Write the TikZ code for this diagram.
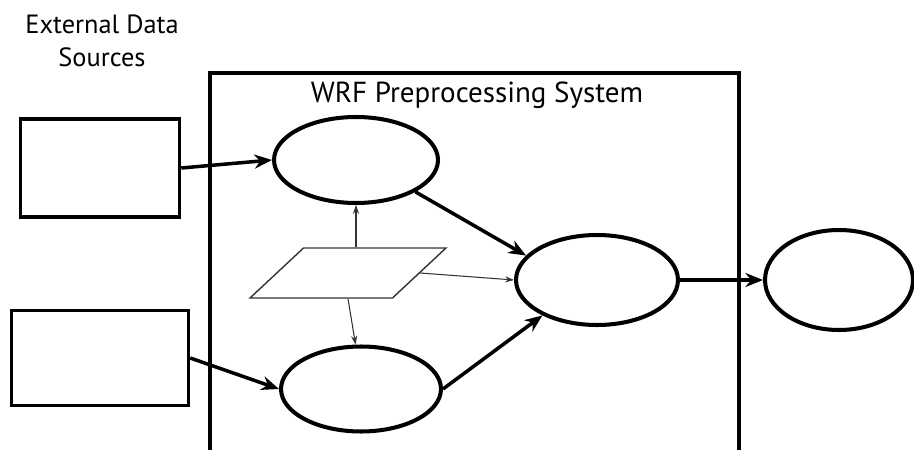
\documentclass[tikz,border=0pt]{standalone}
\usepackage{fontspec}
\setmainfont{PT Sans}
\usepackage{tikz}
\usetikzlibrary{shapes.geometric, arrows.meta}
\tikzstyle{datasrc} = [rectangle, draw=black, line width=2pt, inner sep=0pt]
\tikzstyle{prog} = [ellipse, draw=black, line width=2.3pt, inner sep=0pt]
\tikzstyle{io} = [trapezium, trapezium left angle=59, trapezium right angle=121, trapezium stretches=true, minimum width=3.92cm, minimum height=1cm, inner sep=2pt, draw=black!80, line width=0.8pt]
\tikzstyle{arrow} = [line width=2pt,-{Stealth[length=10pt,width=8pt]}]
\tikzstyle{thinarrow} = [line width=0.6pt,draw=black!80,-{Stealth[length=5pt,width=3.5pt]}]
\tikzstyle{txt} = [font=\fontsize{15}{19}\selectfont, text=black, align=center]

\begin{document}
\begin{tikzpicture}[x=0.02cm, y=-0.02cm]
    \useasboundingbox (0,0) rectangle (914,450);

    %% WPS box, open at the bottom
    \coordinate (boxbl) at (210,450);
    \coordinate (boxtl) at (210,73);
    \coordinate (boxtr) at (739,73);
    \coordinate (boxbr) at (739,450);
    \draw [line width=2.2pt] (boxbl) -- (boxtl) -- (boxtr) -- (boxbr);
    \node[txt, font=\fontsize{16.5}{19}\selectfont] (wpstitle) at (477,95) {WRF Preprocessing System};

    %% external data
    \node[txt] (extlabel) at (102,41) {External Data\\Sources};
    \node[datasrc, minimum width=3.18cm, minimum height=1.96cm] (geo) at (100,168) {};
    \node[datasrc, minimum width=3.54cm, minimum height=1.9cm] (gribdata) at (100,358) {};

    %% programs
    \node[prog, minimum width=3.28cm, minimum height=1.72cm] (geogrid) at (356,160) {};
    \node[prog, minimum width=3.2cm, minimum height=1.7cm] (ungrib) at (361,389) {};
    \node[prog, minimum width=3.24cm, minimum height=1.8cm] (metgrid) at (597,280) {};
    \node[prog, minimum width=2.96cm, minimum height=2cm] (real) at (839,280) {};
    \node[io] (namelist) at (348,273) {};

    \draw [arrow] (geo.east) -- (geogrid.west);
    \draw [arrow] (gribdata.east) -- (ungrib.west);
    \draw [arrow] (geogrid.south east) -- (metgrid.161);
    \draw [arrow] (ungrib.east) -- (metgrid.213);
    \draw [arrow] (metgrid.east) -- (real.west);

    \draw [thinarrow] (namelist.north -| geogrid.south) -- (geogrid.south);
    \draw [thinarrow] (namelist.east) -- (metgrid.west);
    \draw [thinarrow] (namelist.south) -- (ungrib.97);
\end{tikzpicture}
\end{document}
